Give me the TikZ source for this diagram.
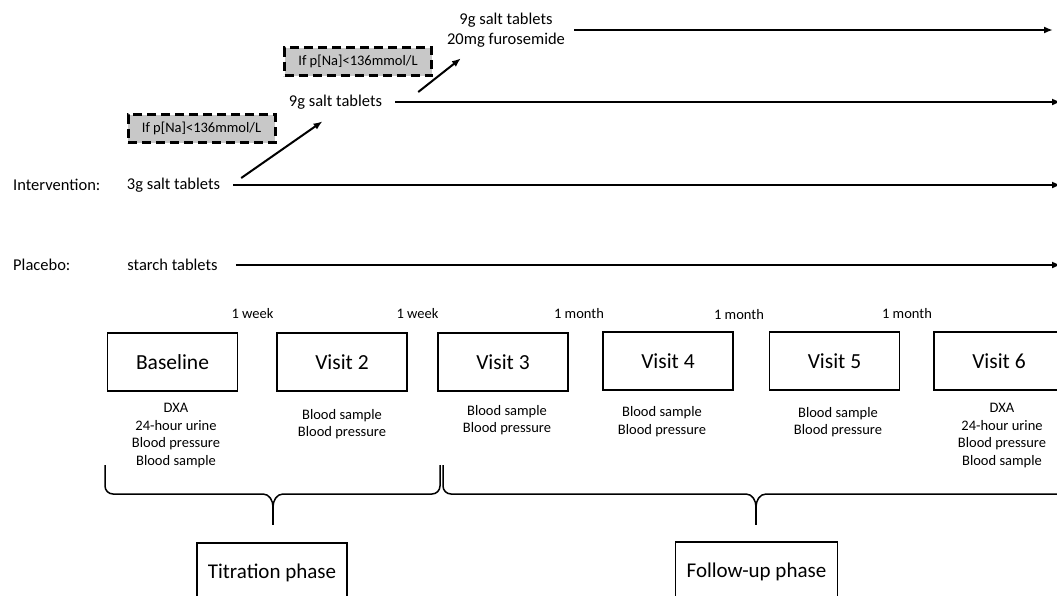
\documentclass[tikz,border=0pt]{standalone}
\usepackage{fontspec}
\setmainfont{Carlito}
\usetikzlibrary{arrows.meta}
\definecolor{condgray}{RGB}{200,200,200}
\newcommand{\phasebrace}[3]{%
	\draw [brace] (#1,465) -- (#1,486) to[out=-90,in=180] (#1+8,494) -- (#2-10,494) to[out=0,in=90] (#2,507) to[out=90,in=180] (#2+10,494) -- (#3-8,494) to[out=0,in=-90] (#3,486) -- (#3,465);
	\draw [brace] (#2,507) -- (#2,525);}

\begin{document}
\begin{tikzpicture}[x=1pt,y=-1pt,
	txt/.style={font=\fontsize{16.5}{20}\selectfont,inner sep=1pt,align=center},
	small/.style={font=\fontsize{14.5}{17.5}\selectfont,inner sep=1pt,align=center},
	cond/.style={rectangle,draw=black,fill=condgray,line width=3pt,dash pattern=on 9pt off 5pt,minimum width=147pt,minimum height=28pt,inner sep=0pt,font=\fontsize{14.5}{17.5}\selectfont},
	visit/.style={rectangle,draw,line width=1.5pt,minimum width=130pt,minimum height=58pt,font=\fontsize{21.5}{26}\selectfont},
	phase/.style={rectangle,draw,line width=1.5pt,minimum height=60pt,inner xsep=11pt,font=\fontsize{21}{25}\selectfont},
	brace/.style={line width=1.5pt},
	arr/.style={line width=2pt,-{Latex[length=9pt,width=7pt]}}]
	\useasboundingbox (0,0) rectangle (1057,595);
	\coordinate (tx) at (1053,0);
	\coordinate (rx) at (1061,0);
	\node (int) at (12,185) [txt,anchor=west] {Intervention:};
	\node (pla) at (12,265) [txt,anchor=west] {Placebo:};
	\node (three) at (173.5,185) [txt] {3g salt tablets};
	\node (starch) at (172.5,265) [txt] {starch tablets};
	\node (nine) at (335.5,102) [txt] {9g salt tablets};
	\node (furo) at (506,30) [txt] {9g salt tablets\\20mg furosemide};
	\node (c1) at (201.5,128.5) [cond] {If p[Na]<136mmol/L};
	\node (c2) at (358,61.5) [cond] {If p[Na]<136mmol/L};
	\draw [arr] ([xshift=8pt]furo.east) -- (furo.east -| tx);
	\draw [arr] ([xshift=12pt]nine.east) -- (nine.east -| rx);
	\draw [arr] ([xshift=12pt]three.east) -- (three.east -| rx);
	\draw [arr] ([xshift=17pt]starch.east) -- (starch.east -| rx);
	\draw [arr] ([xshift=20pt,yshift=7pt]three.east) -- ([xshift=-13pt,yshift=-11pt]nine.south);
	\draw [arr] ([xshift=35pt,yshift=10pt]nine.east) -- ([xshift=15pt,yshift=-10pt]furo.south west);
	\node (base) at (172.5,362) [visit] {Baseline};
	\node (v2) at (342,362) [visit] {Visit 2};
	\node (v3) at (503,362) [visit] {Visit 3};
	\node (v4) at (668,361) [visit] {Visit 4};
	\node (v5) at (834.5,361) [visit] {Visit 5};
	\node (v6) at (999,361) [visit] {Visit 6};
	\node (w1) at (252.5,314) [small] {1 week};
	\node (w2) at (417.5,314) [small] {1 week};
	\node (m1) at (579,314) [small] {1 month};
	\node (m2) at (739,315) [small] {1 month};
	\node (m3) at (907,314) [small] {1 month};
	\node (d1) at (176,435.5) [small] {DXA\\24-hour urine\\Blood pressure\\Blood sample};
	\node (d2) at (342,424) [small] {Blood sample\\Blood pressure};
	\node (d3) at (507,420) [small] {Blood sample\\Blood pressure};
	\node (d4) at (662,421.5) [small] {Blood sample\\Blood pressure};
	\node (d5) at (838,422) [small] {Blood sample\\Blood pressure};
	\node (d6) at (1002,435.5) [small] {DXA\\24-hour urine\\Blood pressure\\Blood sample};
	\phasebrace{105}{273}{440}
	\phasebrace{443}{756}{1069}
	\node (tit) at (272,573) [phase] {Titration phase};
	\node (fol) at (756.5,572) [phase] {Follow-up phase};
\end{tikzpicture}
\end{document}
